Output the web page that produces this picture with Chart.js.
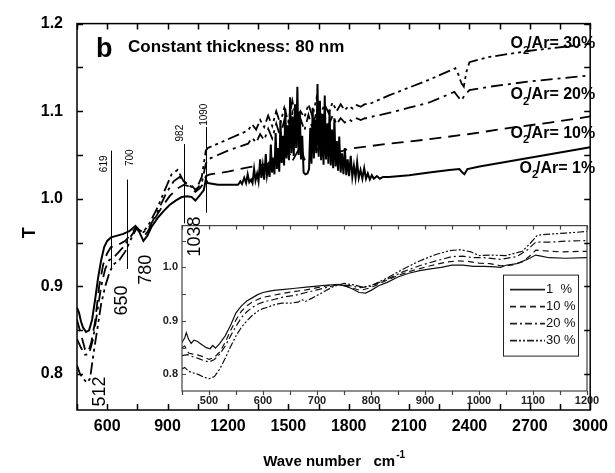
<!DOCTYPE html>
<html>
<head>
<meta charset="utf-8">
<script src="https://cdn.jsdelivr.net/npm/chart.js@4.4.1/dist/chart.umd.min.js"></script>
<style>
  html, body { margin: 0; padding: 0; background: #fff; }
  #wrap { position: relative; width: 615px; height: 473px; }
  #main { position: absolute; left: 0; top: 0; z-index: 2; }
  #inset { position: absolute; left: 150px; top: 215px; z-index: 1; }
</style>
</head>
<body>
<div id="wrap">
  <canvas id="inset" width="460" height="200"></canvas>
  <canvas id="main" width="615" height="473"></canvas>
</div>
<script>
// readings [wave number, T] for the big plot
const main1 = [[450,0.876],[460,0.87],[470,0.86],[480,0.853],[495,0.848],[510,0.85],[525,0.862],[540,0.885],[555,0.91],[570,0.93],[585,0.945],[600,0.952],[619,0.956],[650,0.958],[680,0.96],[710,0.963],[740,0.969],[760,0.962],[780,0.952],[800,0.958],[820,0.968],[850,0.978],[880,0.986],[910,0.993],[940,0.998],[970,1.002],[1000,1.003],[1020,1.002],[1038,0.998],[1060,1.004],[1080,1.01],[1090,1.022],[1100,1.018],[1150,1.016],[1200,1.016],
  [1250,1.016],[1262,1.02],[1270,1.017],[1281,1.024],[1290,1.018],[1298,1.028],[1306,1.019],[1315,1.022],[1322,1.018],[1330,1.034],[1337,1.021],[1345,1.029],[1352,1.02],[1360,1.045],[1366,1.024],[1373,1.038],[1380,1.022],[1388,1.051],[1394,1.027],[1400,1.036],[1407,1.025],[1413,1.062],[1419,1.03],[1425,1.047],[1431,1.028],[1437,1.075],[1443,1.034],[1449,1.058],[1455,1.031],[1461,1.09],[1467,1.041],[1473,1.072],[1479,1.038],[1485,1.103],[1491,1.046],[1497,1.084],[1503,1.044],[1509,1.116],[1515,1.052],[1521,1.094],[1527,1.049],[1533,1.108],[1539,1.058],[1545,1.128],[1551,1.05],[1557,1.099],[1563,1.045],[1569,1.072],[1576,1.03],[1585,1.028],[1595,1.029],[1603,1.034],[1609,1.081],[1615,1.04],[1621,1.104],[1627,1.046],[1633,1.09],[1639,1.052],[1645,1.131],[1651,1.048],[1657,1.112],[1663,1.044],[1669,1.097],[1675,1.039],[1681,1.118],[1687,1.045],[1693,1.086],[1699,1.04],[1705,1.102],[1711,1.038],[1717,1.079],[1723,1.035],[1729,1.092],[1735,1.037],[1741,1.066],[1747,1.032],[1753,1.071],[1760,1.03],[1767,1.052],[1774,1.028],[1781,1.058],[1788,1.027],[1795,1.045],[1802,1.026],[1810,1.049],[1818,1.025],[1826,1.038],[1834,1.024],[1842,1.042],[1850,1.024],[1859,1.033],[1868,1.023],[1877,1.035],[1886,1.023],[1895,1.029],[1905,1.022],[1915,1.027],[1925,1.023],[1940,1.026],[1955,1.023],[1970,1.025],
  [2000,1.025],[2100,1.027],[2200,1.030],[2300,1.033],[2350,1.034],[2365,1.030],[2375,1.028],[2390,1.034],[2450,1.037],[2600,1.043],[2800,1.051],[3000,1.059]];

const main10 = [[450,0.862],[470,0.845],[490,0.828],[505,0.825],[520,0.835],[540,0.86],[560,0.9],[580,0.925],[600,0.938],[619,0.945],[650,0.947],[690,0.952],[720,0.96],[745,0.968],[770,0.962],[785,0.958],[800,0.962],[830,0.975],[870,0.99],[910,1.003],[950,1.012],[982,1.016],[1010,1.014],[1038,1.008],[1060,1.012],[1080,1.018],[1090,1.026],[1110,1.028],[1200,1.031],[1300,1.036],[1400,1.04],[1450,1.05],[1470,1.041],[1500,1.055],[1520,1.043],[1560,1.06],[1580,1.045],[1640,1.058],[1660,1.048],[1700,1.056],[1720,1.051],[1800,1.057],[1900,1.060],[2000,1.063],[2200,1.068],[2400,1.074],[2600,1.081],[2800,1.087],[3000,1.094]];

const main20 = [[450,0.84],[470,0.83],[490,0.822],[510,0.823],[530,0.84],[550,0.87],[570,0.9],[590,0.92],[610,0.93],[640,0.935],[680,0.945],[720,0.958],[745,0.966],[780,0.962],[810,0.968],[850,0.985],[890,1.005],[930,1.02],[960,1.025],[990,1.018],[1020,1.015],[1040,1.01],[1070,1.018],[1090,1.04],[1100,1.045],[1150,1.05],[1200,1.055],[1300,1.063],
  [1320,1.07],[1340,1.064],[1360,1.074],[1380,1.067],[1400,1.08],[1420,1.069],[1440,1.086],[1460,1.071],[1480,1.09],[1500,1.074],[1520,1.098],[1540,1.076],[1560,1.092],[1580,1.078],[1600,1.096],[1620,1.08],[1640,1.1],[1660,1.082],[1680,1.094],[1700,1.084],[1720,1.095],[1740,1.085],[1760,1.092],[1780,1.087],[1800,1.091],[1820,1.088],[1840,1.092],[1860,1.09],[1880,1.092],[1900,1.092],[1920,1.094],
  [2000,1.098],[2100,1.104],[2200,1.11],[2325,1.122],[2345,1.116],[2360,1.112],[2375,1.118],[2400,1.124],[2500,1.128],[2700,1.134],[3000,1.141]];

const main30 = [[450,0.81],[465,0.8],[480,0.795],[500,0.79],[515,0.795],[530,0.82],[550,0.85],[570,0.88],[590,0.9],[610,0.915],[630,0.925],[660,0.93],[690,0.94],[720,0.955],[745,0.966],[780,0.962],[810,0.972],[850,0.99],[890,1.012],[920,1.028],[950,1.033],[980,1.02],[1010,1.015],[1040,1.01],[1070,1.025],[1090,1.055],[1100,1.058],[1200,1.068],[1300,1.078],
  [1320,1.085],[1340,1.079],[1360,1.09],[1380,1.082],[1400,1.095],[1420,1.083],[1440,1.1],[1460,1.086],[1480,1.104],[1500,1.088],[1520,1.112],[1540,1.09],[1560,1.1],[1580,1.093],[1600,1.108],[1620,1.094],[1640,1.115],[1660,1.096],[1680,1.108],[1700,1.098],[1720,1.11],[1740,1.1],[1760,1.108],[1780,1.101],[1800,1.106],[1820,1.103],[1840,1.107],[1860,1.105],[1880,1.108],[1900,1.108],[1920,1.11],
  [2000,1.118],[2100,1.127],[2200,1.136],[2300,1.146],[2330,1.149],[2345,1.142],[2360,1.132],[2372,1.128],[2385,1.145],[2400,1.156],[2500,1.162],[2700,1.169],[3000,1.177]];

// readings for the inset (450-1200 cm-1)
const inset1 = [[450,0.86],[455,0.868],[458,0.878],[462,0.866],[467,0.858],[472,0.864],[478,0.862],[485,0.857],[495,0.85],[502,0.848],[507,0.854],[512,0.849],[520,0.858],[530,0.872],[540,0.892],[550,0.915],[560,0.928],[570,0.937],[580,0.943],[590,0.949],[600,0.953],[610,0.955],[620,0.957],[640,0.959],[660,0.961],[680,0.963],[700,0.965],[720,0.967],[735,0.968],[750,0.966],[765,0.96],[778,0.953],[790,0.952],[800,0.957],[815,0.966],[830,0.972],[850,0.982],[870,0.989],[890,0.994],[910,0.997],[930,1.0],[950,1.004],[970,1.004],[990,1.002],[1010,1.002],[1030,1.001],[1040,1.0],[1050,1.004],[1070,1.007],[1090,1.015],[1105,1.023],[1115,1.021],[1130,1.018],[1160,1.017],[1200,1.018]];
const inset10 = [[450,0.85],[455,0.853],[462,0.84],[470,0.838],[480,0.836],[490,0.833],[500,0.828],[510,0.832],[520,0.842],[530,0.86],[540,0.882],[550,0.902],[560,0.918],[570,0.928],[580,0.935],[590,0.94],[600,0.944],[620,0.948],[640,0.952],[660,0.955],[680,0.958],[700,0.962],[720,0.966],[740,0.968],[760,0.963],[780,0.957],[800,0.962],[820,0.972],[850,0.985],[880,0.995],[910,1.003],[940,1.01],[960,1.012],[980,1.011],[1000,1.008],[1020,1.007],[1040,1.003],[1060,1.004],[1080,1.01],[1095,1.022],[1105,1.032],[1120,1.031],[1150,1.029],[1200,1.03]];
const inset20 = [[450,0.835],[460,0.837],[470,0.833],[480,0.83],[490,0.826],[500,0.823],[510,0.828],[520,0.838],[530,0.853],[540,0.872],[550,0.89],[560,0.906],[570,0.917],[580,0.925],[590,0.931],[600,0.935],[620,0.94],[640,0.945],[660,0.948],[680,0.953],[700,0.958],[720,0.963],[740,0.968],[760,0.966],[780,0.962],[800,0.965],[830,0.978],[860,0.992],[890,1.003],[920,1.012],[950,1.02],[970,1.021],[990,1.018],[1010,1.018],[1040,1.015],[1070,1.02],[1090,1.033],[1105,1.047],[1130,1.047],[1160,1.049],[1200,1.05]];
const inset30 = [[450,0.81],[455,0.813],[462,0.806],[470,0.803],[480,0.8],[490,0.795],[500,0.792],[510,0.796],[520,0.81],[530,0.83],[540,0.852],[550,0.872],[560,0.888],[570,0.9],[580,0.91],[590,0.918],[600,0.923],[610,0.926],[620,0.93],[635,0.933],[650,0.933],[665,0.935],[672,0.94],[678,0.936],[690,0.942],[710,0.953],[730,0.964],[750,0.97],[770,0.967],[785,0.963],[800,0.966],[830,0.98],[860,0.997],[890,1.012],[920,1.024],[945,1.031],[965,1.033],[985,1.029],[1000,1.022],[1020,1.023],[1050,1.022],[1080,1.03],[1095,1.045],[1108,1.06],[1130,1.062],[1160,1.064],[1200,1.067]];

const ratios = ['1', '10', '20', '30'];
const insetNames = ['1  %', '10 %', '20 %', '30 %'];
const ratioLabelT = [1.035, 1.075, 1.119, 1.177];   // where the O2/Ar labels sit

// marked bands: thin lines with small labels, big labels below
const markerWn = [619, 700, 982, 1090];
const markerTop = [1.055, 1.022, 1.0625, 1.082];
const markerBottom = [0.92, 0.92, 0.972, 0.984];
const markerLabelAt = [[585, 1.04], [716, 1.047], [963, 1.075], [1080, 1.096]];
const bandWn = [512, 650, 780, 1038];
const bandLabelAt = [[563, 0.78], [673, 0.884], [795, 0.919], [1036, 0.957]];

const FF = '"Liberation Sans", Arial, sans-serif';
const font = (size, bold) => (bold ? 'bold ' : '') + size + 'px ' + FF;
const pts = arr => arr.map(p => ({x: p[0], y: p[1]}));

const dashes = [[], [12, 7], [12, 5, 3, 5], [12, 4, 3, 4, 3, 4]];
const smallDashes = [[], [6, 4], [7, 3, 2, 3], [7, 2, 2, 2, 2, 2]];

// box + inward ticks
const frameTicks = {
  id: 'frameTicks',
  afterDraw(chart, args, o) {
    const {ctx, chartArea: a} = chart;
    const x = chart.scales.x, y = chart.scales.y;
    ctx.save();
    ctx.strokeStyle = o.color;
    ctx.lineWidth = o.lineWidth;
    ctx.strokeRect(a.left, a.top, a.right - a.left, a.bottom - a.top);
    ctx.beginPath();
    x.ticks.forEach(t => {
      const px = Math.round(x.getPixelForValue(t.value)) + 0.5;
      ctx.moveTo(px, a.bottom); ctx.lineTo(px, a.bottom + o.bottomDir * o.len);
      ctx.moveTo(px, a.top); ctx.lineTo(px, a.top + o.len);
    });
    y.ticks.forEach(t => {
      const py = Math.round(y.getPixelForValue(t.value)) + 0.5;
      ctx.moveTo(a.left, py); ctx.lineTo(a.left + o.len, py);
      if (o.right) { ctx.moveTo(a.right, py); ctx.lineTo(a.right - o.len, py); }
    });
    ctx.stroke();
    ctx.restore();
  }
};

function rotText(ctx, txt, px, py) {
  ctx.save();
  ctx.translate(px, py);
  ctx.rotate(-Math.PI / 2);
  ctx.textAlign = 'center';
  ctx.textBaseline = 'middle';
  ctx.fillText(txt, 0, 0);
  ctx.restore();
}

const notes = {
  id: 'notes',
  afterDraw(chart) {
    const {ctx, chartArea: a} = chart;
    const x = chart.scales.x, y = chart.scales.y;
    ctx.save();
    ctx.fillStyle = '#000';
    ctx.strokeStyle = '#000';
    ctx.lineWidth = 1;
    // marker lines
    markerWn.forEach((w, i) => {
      const px = Math.round(x.getPixelForValue(w)) + 0.5;
      ctx.beginPath();
      ctx.moveTo(px, y.getPixelForValue(markerTop[i]));
      ctx.lineTo(px, y.getPixelForValue(markerBottom[i]));
      ctx.stroke();
      ctx.font = font(10, false);
      rotText(ctx, String(w), x.getPixelForValue(markerLabelAt[i][0]), y.getPixelForValue(markerLabelAt[i][1]));
    });
    ctx.font = font(18, false);
    bandWn.forEach((w, i) => {
      rotText(ctx, String(w), x.getPixelForValue(bandLabelAt[i][0]), y.getPixelForValue(bandLabelAt[i][1]));
    });
    // O2/Ar labels
    ctx.textBaseline = 'middle';
    ctx.textAlign = 'left';
    ratios.forEach((r, i) => {
      const rest = '/Ar= ' + r + '%';
      ctx.font = font(16, true);
      const wO = ctx.measureText('O').width, wR = ctx.measureText(rest).width;
      ctx.font = font(11, true);
      const w2 = ctx.measureText('2').width;
      const xr = a.right + 5;
      const x0 = xr - wO - w2 - wR + 2;
      const py = y.getPixelForValue(ratioLabelT[i]);
      ctx.font = font(16, true);
      ctx.fillText('O', x0, py);
      ctx.font = font(11, true);
      ctx.fillText('2', x0 + wO, py + 7);
      ctx.font = font(16, true);
      ctx.fillText(rest, x0 + wO + w2 - 2, py);
    });
    // panel letter and heading
    ctx.font = font(27, true);
    ctx.fillText('b', a.left + 19, a.top + 26);
    ctx.font = font(17, true);
    ctx.fillText('Constant thickness: 80 nm', a.left + 51, a.top + 24);
    // axis titles
    ctx.font = font(18, true);
    rotText(ctx, 'T', 30, (a.top + a.bottom) / 2 + 16);
    const t1 = 'Wave number   cm';
    ctx.font = font(15, true);
    const w1 = ctx.measureText(t1).width;
    ctx.font = font(10, true);
    const ws = ctx.measureText('-1').width;
    const cx = (a.left + a.right) / 2;
    const sx = cx - (w1 + ws) / 2;
    ctx.font = font(15, true);
    ctx.fillText(t1, sx, 462);
    ctx.font = font(10, true);
    ctx.fillText('-1', sx + w1 + 1, 455);
    ctx.restore();
  }
};

const insetLegend = {
  id: 'insetLegend',
  afterDraw(chart) {
    const {ctx, chartArea: a} = chart;
    const bx = a.left + 321, by = a.top + 49, bw = 75, bh = 81;
    ctx.save();
    ctx.fillStyle = '#fff';
    ctx.fillRect(bx, by, bw, bh);
    ctx.strokeStyle = '#222';
    ctx.lineWidth = 1;
    ctx.strokeRect(bx + 0.5, by + 0.5, bw, bh);
    chart.data.datasets.forEach((d, i) => {
      const ly = by + 15 + i * 17;
      ctx.beginPath();
      ctx.setLineDash(d.borderDash);
      ctx.lineWidth = 1.6;
      ctx.moveTo(bx + 7, ly);
      ctx.lineTo(bx + 42, ly);
      ctx.stroke();
      ctx.setLineDash([]);
      ctx.fillStyle = '#111';
      ctx.font = font(13, false);
      ctx.textBaseline = 'middle';
      ctx.fillText(d.label, bx + 43, ly);
    });
    ctx.restore();
  }
};

const insetBg = {
  id: 'insetBg',
  beforeDraw(chart) {
    const {ctx, chartArea: a} = chart;
    ctx.save();
    ctx.fillStyle = '#fff';
    ctx.fillRect(a.left, a.top, a.right - a.left, a.bottom - a.top);
    ctx.restore();
  }
};

new Chart(document.getElementById('main'), {
  type: 'line',
  data: {
    datasets: [main30, main20, main10, main1].map((s, k) => {
      const i = 3 - k;
      return {
        label: 'O2/Ar= ' + ratios[i] + '%',
        data: pts(s),
        borderColor: '#000',
        borderWidth: i === 0 ? 2 : 1.8,
        borderDash: dashes[i],
        pointRadius: 0,
        tension: 0,
        fill: false
      };
    })
  },
  options: {
    responsive: false,
    animation: false,
    devicePixelRatio: 1,
    events: [],
    layout: {padding: {top: 22, right: 21, left: 0, bottom: 0}},
    plugins: {
      legend: {display: false},
      tooltip: {enabled: false},
      frameTicks: {color: '#000', lineWidth: 1.5, len: 6, bottomDir: -1, right: true}
    },
    scales: {
      x: {
        type: 'linear', min: 450, max: 3000,
        grid: {display: false, drawTicks: false},
        border: {display: false},
        afterFit: s => { s.height = 63; },
        ticks: {
          stepSize: 150, autoSkip: false, maxRotation: 0, padding: 7, color: '#000',
          font: {family: FF, size: 16, weight: 'bold'},
          callback: v => (v % 300 === 0 ? String(v) : '')
        }
      },
      y: {
        type: 'linear', min: 0.759, max: 1.2,
        grid: {display: false, drawTicks: false},
        border: {display: false},
        afterFit: s => { s.width = 77; },
        ticks: {
          stepSize: 0.05, includeBounds: false, padding: 14, color: '#000',
          font: {family: FF, size: 16, weight: 'bold'},
          callback: v => (Math.abs(v * 10 - Math.round(v * 10)) < 1e-6 ? v.toFixed(1) : '')
        }
      }
    }
  },
  plugins: [frameTicks, notes]
});

new Chart(document.getElementById('inset'), {
  type: 'line',
  data: {
    datasets: [inset1, inset10, inset20, inset30].map((s, i) => ({
      label: insetNames[i],
      data: pts(s),
      borderColor: '#111',
      borderWidth: 1.2,
      borderDash: smallDashes[i],
      pointRadius: 0,
      tension: 0,
      fill: false
    }))
  },
  options: {
    responsive: false,
    animation: false,
    devicePixelRatio: 1,
    events: [],
    layout: {padding: {top: 9, right: 23, left: 0, bottom: 0}},
    plugins: {
      legend: {display: false},
      tooltip: {enabled: false},
      frameTicks: {color: '#444', lineWidth: 1.2, len: 4, bottomDir: 1, right: false}
    },
    scales: {
      x: {
        type: 'linear', min: 450, max: 1200,
        grid: {display: false, drawTicks: false},
        border: {display: false},
        afterFit: s => { s.height = 24; },
        ticks: {
          stepSize: 50, autoSkip: false, maxRotation: 0, padding: 3, color: '#222',
          font: {family: FF, size: 11, weight: 'bold'},
          callback: v => (v % 100 === 0 ? String(v) : '')
        }
      },
      y: {
        type: 'linear', min: 0.769, max: 1.078,
        grid: {display: false, drawTicks: false},
        border: {display: false},
        afterFit: s => { s.width = 32; },
        ticks: {
          stepSize: 0.05, includeBounds: false, padding: 4, color: '#222',
          font: {family: FF, size: 11, weight: 'bold'},
          callback: v => (Math.abs(v * 10 - Math.round(v * 10)) < 1e-6 ? v.toFixed(1) : '')
        }
      }
    }
  },
  plugins: [insetBg, frameTicks, insetLegend]
});
</script>
</body>
</html>
